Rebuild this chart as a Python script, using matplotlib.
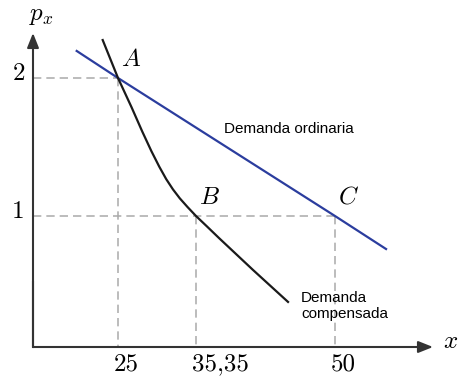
import numpy as np
import matplotlib
matplotlib.use('Agg')
import matplotlib.pyplot as plt
from matplotlib.transforms import offset_copy

plt.rcParams.update({
    'mathtext.fontset': 'cm',
    'lines.scale_dashes': False,
})

# price levels on the vertical axis
price_ticks = [2, 1]
price_labels = ['2', '1']

# quantities on the horizontal axis
qty_ticks = [25, 35.35, 50]
qty_labels = ['25', '35,35', '50']

# equilibrium points
point_names = ['A', 'B', 'C']
point_x = [25, 35.35, 50]
point_p = [2, 1, 1]

# ordinary (Marshallian) demand
ordinary_x = [12.85, 25, 50, 55.38]
ordinary_p = [2.196, 2, 1, 0.748]

# compensated (Hicksian) demand
compensated_x = [20.50, 25, 26.79, 28.22, 29.43, 30.47, 31.40, 32.29,
                 33.20, 34.21, 35.35, 36.51, 37.77, 41.36, 45.05]
compensated_p = [2.275, 2, 1.789, 1.612, 1.470, 1.358, 1.267, 1.193,
                 1.128, 1.066, 1, 0.920, 0.832, 0.588, 0.344]

# schematic (not to scale) axes: data knots -> distance from origin in px
X_KNOTS = [-100, 0, 25, 35.35, 50, 150]
X_POS = [-340, 0, 85, 163, 302, 302 + 100 * 9.488]
Y_KNOTS = [-100, 0, 1, 2, 100]
Y_POS = [-13100, 0, 131, 269, 269 + 98 * 138]


def x_fwd(v):
    return np.interp(v, X_KNOTS, X_POS)


def x_inv(v):
    return np.interp(v, X_POS, X_KNOTS)


def y_fwd(v):
    return np.interp(v, Y_KNOTS, Y_POS)


def y_inv(v):
    return np.interp(v, Y_POS, Y_KNOTS)


W, H = 458, 379
ORIGIN = (33, 32)   # px from left / bottom

fig = plt.figure(figsize=(W / 100, H / 100), dpi=100)
ax = fig.add_axes([0, 0, 1, 1])
ax.set_xscale('function', functions=(x_fwd, x_inv))
ax.set_yscale('function', functions=(y_fwd, y_inv))
ax.set_xlim(x_inv(-ORIGIN[0]), x_inv(W - ORIGIN[0]))
ax.set_ylim(y_inv(-ORIGIN[1]), y_inv(H - ORIGIN[1]))
ax.axis('off')

axis_col = '#333333'
guide_col = '#aaaaaa'
dash = (0, (6, 3.6))

# dashed guides
ax.plot([0, max(point_x[1:])], [1, 1], color=guide_col, lw=1.1, ls=dash, zorder=1)
ax.plot([0, point_x[0]], [point_p[0]] * 2, color=guide_col, lw=1.1, ls=dash, zorder=1)
for px, pp in zip(point_x, point_p):
    ax.plot([px, px], [pp, 0], color=guide_col, lw=1.1, ls=dash, zorder=1)

# axes with arrows
arrow = dict(arrowstyle='-|>,head_length=0.55,head_width=0.22', color=axis_col,
             lw=1.5, mutation_scale=16, shrinkA=0, shrinkB=0)
ax.annotate('', xy=(0, y_inv(301 + 13)), xytext=(0, 0), arrowprops=arrow, zorder=4)
ax.annotate('', xy=(x_inv(400), 0), xytext=(0, 0), arrowprops=arrow, zorder=4)
ax.plot([0, 0], [0, 0.5], color=axis_col, lw=1.5, solid_capstyle='projecting')

# demand curves
ax.plot(ordinary_x, ordinary_p, color='#2b3d9e', lw=1.6, zorder=3)
ax.plot(compensated_x, compensated_p, color='#1a1a1a', lw=1.6, zorder=3,
        solid_joinstyle='round')


def off(dx, dy):
    return offset_copy(ax.transData, fig=fig, x=dx, y=dy, units='dots')


# tick labels
for p, lab in zip(price_ticks, price_labels):
    ax.text(0, p, lab, transform=off(-14.5, -1.5), ha='center', va='baseline',
            family='cmr10', fontsize=18)
for q, lab in zip(qty_ticks, qty_labels):
    ax.text(q, 0, lab, transform=off(-4, -6), ha='left', va='top',
            family='cmr10', fontsize=18)

# point labels
for name, px, pp in zip(point_names, point_x, point_p):
    ax.text(px, pp, f'${name}$', transform=off(13, 19.5), ha='center',
            va='center', fontsize=18)

# axis titles
ax.text(0, 0, r'$p_x$', transform=off(8, 332), ha='center', va='center', fontsize=18)
ax.text(0, 0, r'$x$', transform=off(418, 6), ha='center', va='center', fontsize=18)

# curve names
ax.text(38.3, 1.601, 'Demanda ordinaria', ha='left', va='baseline',
        family='Liberation Sans', fontsize=11)
ax.text(46.42, 0.427, 'Demanda\ncompensada', ha='left', va='top',
        family='Liberation Sans', fontsize=11, linespacing=1.2)

fig.savefig('out.png', dpi=100, facecolor='white')
